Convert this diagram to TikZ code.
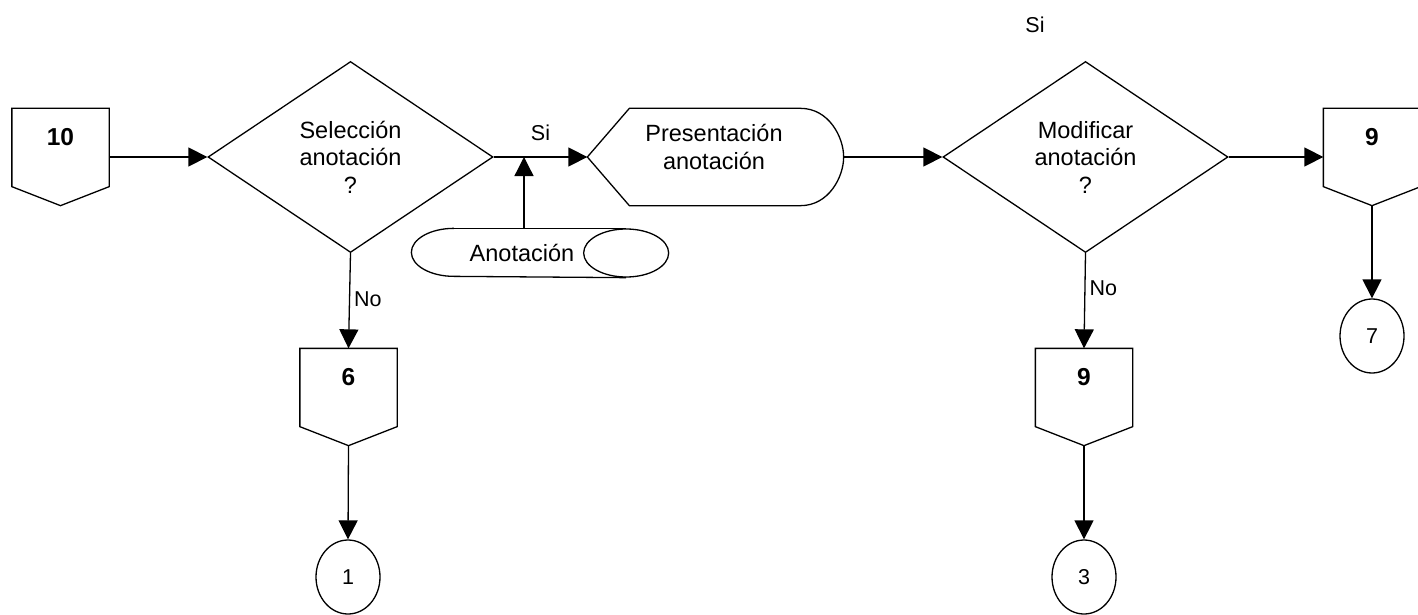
\documentclass[tikz,border=0pt]{standalone}
\usepackage{fontspec}
\setmainfont{Liberation Sans}
\usetikzlibrary{arrows.meta,shapes.geometric,calc}

\begin{document}
\begin{tikzpicture}[x=1pt,y=-1pt,line width=1.3pt,
  txt/.style={font=\fontsize{23.5}{27.5}\selectfont, align=center, inner sep=0pt},
  lbl/.style={font=\fontsize{21.5}{24}\selectfont, inner sep=0pt},
  num/.style={font=\fontsize{24.5}{28}\selectfont\bfseries, inner sep=0pt},
  decision/.style={diamond, draw, minimum width=285pt, minimum height=191pt, inner sep=0pt, txt},
  frame/.style={rectangle, draw=none, inner sep=0pt, minimum width=96pt, minimum height=96pt},
  onpage/.style={ellipse, draw, minimum width=64pt, minimum height=74pt, inner sep=0pt, lbl},
  flow/.style={-{Triangle[length=19pt,width=19pt]}},
]
\useasboundingbox (0,0) rectangle (1418,615);

% off-page connectors (frames; outlines drawn below)
\node[frame] (c10) at (60.5,157) {};
\node[frame] (b6)  at (348.5,397) {};
\node[frame] (b9)  at (1084,397) {};
\node[frame] (b9r) at (1372,157) {};
\foreach \n in {c10,b6,b9,b9r}
  \draw (\n.north west) -- (\n.north east) -- ([yshift=19pt]\n.south east)
        -- (\n.south) -- ([yshift=19pt]\n.south west) -- cycle;
\node[num] (c10t) at ([yshift=20pt]c10.center) {10};
\node[num] (b6t)  at ([yshift=20pt]b6.center) {6};
\node[num] (b9t)  at ([yshift=20pt]b9.center) {9};
\node[num] (b9rt) at ([yshift=20pt]b9r.center) {9};

% decisions
\node[decision] (d1) at (350.5,157) {Selección\\anotación\\?};
\node[decision] (d2) at (1085.5,157) {Modificar\\anotación\\?};

% display
\node[rectangle, draw=none, minimum width=255pt, minimum height=96pt, inner sep=0pt] (pres) at (715.5,157) {};
\draw (pres.west) -- ([xshift=42pt]pres.north west) -- ([xshift=-43pt]pres.north east)
  .. controls ([xshift=-15pt]pres.north east) and ([yshift=20pt]pres.east) .. (pres.east)
  .. controls ([yshift=-20pt]pres.east) and ([xshift=-15pt]pres.south east) .. ([xshift=-43pt]pres.south east)
  -- ([xshift=42pt]pres.south west) -- cycle;
\node[txt] (prest) at (714,147) {Presentación\\anotación};

% direct access storage
\node[rectangle, draw=none, minimum width=256pt, minimum height=48pt, inner sep=0pt] (anot) at (540,253) {};
\draw ([xshift=42.5pt]anot.north west) -- ([xshift=-42.5pt]anot.north east);
\draw ([xshift=42.5pt]anot.north west) arc[start angle=90, end angle=270, x radius=42.5pt, y radius=24pt]
      -- ([xshift=-42.5pt]anot.south east);
\draw ([xshift=-42.5pt]anot.east) ellipse[x radius=42.5pt, y radius=24pt];
\node[txt] (anott) at (522,253) {Anotación};

% on-page connectors
\node[onpage] (o1) at (348,577) {1};
\node[onpage] (o3) at (1084,577) {3};
\node[onpage] (o7) at (1372,336) {7};

% flow lines
\coordinate (j) at (524,157);
\draw[flow] (c10.east) -- (d1.west);
\draw[flow] (d1.east) -- node[lbl, yshift=24pt] (si1) {Si} (pres.west);
\draw[flow] (j |- anot.north) -- (j);
\draw[flow] (d1.south) -- node[lbl, right=4pt, pos=0.48] (no1) {No} (b6.north);
\draw[flow] (b6.south) -- (o1.north);
\draw[flow] (pres.east) -- (d2.west);
\draw[flow] (d2.east) -- (b9r.west);
\draw[flow] (b9r.south) -- (o7.north);
\draw[flow] (d2.south) -- node[lbl, right=4pt, pos=0.37] (no2) {No} (b9.north);
\draw[flow] (b9.south) -- (o3.north);

\node[lbl] (si2) at (1035,25) {Si};
\end{tikzpicture}
\end{document}
